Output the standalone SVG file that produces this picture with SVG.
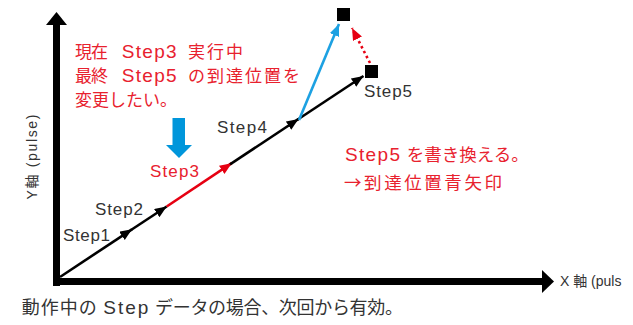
<svg xmlns="http://www.w3.org/2000/svg" width="633" height="325" viewBox="0 0 633 325">
<style>
text{font-family:"Liberation Sans","Noto Sans CJK JP",sans-serif}
.lbl{font-size:17px;fill:#333}
.red{fill:#E8212E}
.note{font-size:17px;fill:#E8212E}
.note2{font-size:17.5px;fill:#E8212E}
.cap{font-size:18px;fill:#333}
.lat{font-size:19px}
.cjk{font-family:"Noto Sans CJK JP",sans-serif}
.ax{font-size:14px;fill:#333}
.seg{stroke:#000;stroke-width:2.6;fill:none}
</style>
<defs>
<marker id="ab" markerUnits="userSpaceOnUse" markerWidth="13" markerHeight="11" refX="12" refY="5" orient="auto"><path d="M0,0 L12,5 L0,10 z" fill="#000"/></marker>
<marker id="ar" markerUnits="userSpaceOnUse" markerWidth="13" markerHeight="11" refX="12" refY="5" orient="auto"><path d="M0,0 L12,5 L0,10 z" fill="#E60012"/></marker>
<marker id="abl" markerUnits="userSpaceOnUse" markerWidth="13" markerHeight="11" refX="12" refY="5" orient="auto"><path d="M0,0 L12,5 L0,10 z" fill="#1DA1E2"/></marker>
</defs>
<g id="axes">
<rect x="53" y="24" width="7" height="262" fill="#000"/>
<polygon points="46,25 56.5,12 67,25" fill="#000"/>
<rect x="53" y="278" width="490" height="7" fill="#000"/>
<polygon points="542,270 554,281.5 542,293" fill="#000"/>
<text class="ax" x="560" y="286">X 軸 (puls</text>
<text class="ax" transform="translate(37,157) rotate(-90)" text-anchor="middle" textLength="85">Y軸 (pulse)</text>
</g>
<g id="connectors">
<line class="seg" x1="60" y1="277" x2="132" y2="229.3" marker-end="url(#ab)"/>
<line class="seg" x1="131" y1="230" x2="166.7" y2="206.5" marker-end="url(#ab)"/>
<line class="seg" x1="166.7" y1="206.5" x2="231.7" y2="163.2" style="stroke:#E60012" marker-end="url(#ar)"/>
<line class="seg" x1="230" y1="164.4" x2="298.5" y2="119" marker-end="url(#ab)"/>
<line class="seg" x1="297" y1="120" x2="363.5" y2="76" marker-end="url(#ab)"/>
<line x1="299" y1="120" x2="339" y2="24" stroke="#1DA1E2" stroke-width="2.6" marker-end="url(#abl)"/>
<line x1="370" y1="63" x2="352" y2="28" stroke="#E60012" stroke-width="2.6" stroke-dasharray="2.5,3" marker-end="url(#ar)"/>
<g id="bluedown"><rect x="172.5" y="118" width="12.5" height="28" fill="#0096DB"/><polygon points="166,145 192,145 179,158" fill="#0096DB"/></g>
</g>
<g id="step1"><text class="lbl" x="63" y="241" textLength="47">Step1</text></g>
<g id="step2"><text class="lbl" x="95" y="215" textLength="48">Step2</text></g>
<g id="step3"><text class="lbl red" x="150" y="177" textLength="49">Step3</text></g>
<g id="step4"><text class="lbl" x="217" y="133" textLength="50">Step4</text></g>
<g id="step5"><rect x="365" y="65" width="13" height="13" fill="#000"/><text class="lbl" x="364" y="97" textLength="48">Step5</text></g>
<g id="newstep5"><rect x="337" y="8" width="13" height="13" fill="#000"/></g>
<g id="note1">
<text class="note" y="58"><tspan x="75" textLength="33">現在</tspan> <tspan class="lat" x="121.7" textLength="55">Step3</tspan> <tspan x="188" textLength="55">実行中</tspan></text>
<text class="note" y="82"><tspan x="75" textLength="33">最終</tspan> <tspan class="lat" x="121.7" textLength="55">Step5</tspan> <tspan x="188" textLength="112">の到達位置を</tspan></text>
<text class="note" x="75" y="106" textLength="102">変更したい。</text>
</g>
<g id="note2">
<text class="note2" y="161"><tspan class="lat" x="345" textLength="55">Step5</tspan> <tspan x="406.7" textLength="122">を書き換える。</tspan></text>
<text class="note2 cjk" x="344" y="189" textLength="158">→到達位置青矢印</text>
</g>
<g id="caption"><text class="cap" y="314"><tspan x="21.7" textLength="75">動作中の</tspan> <tspan class="lat" x="103.3" textLength="45">Step</tspan> <tspan x="155" textLength="248">データの場合、次回から有効。</tspan></text></g>
</svg>
